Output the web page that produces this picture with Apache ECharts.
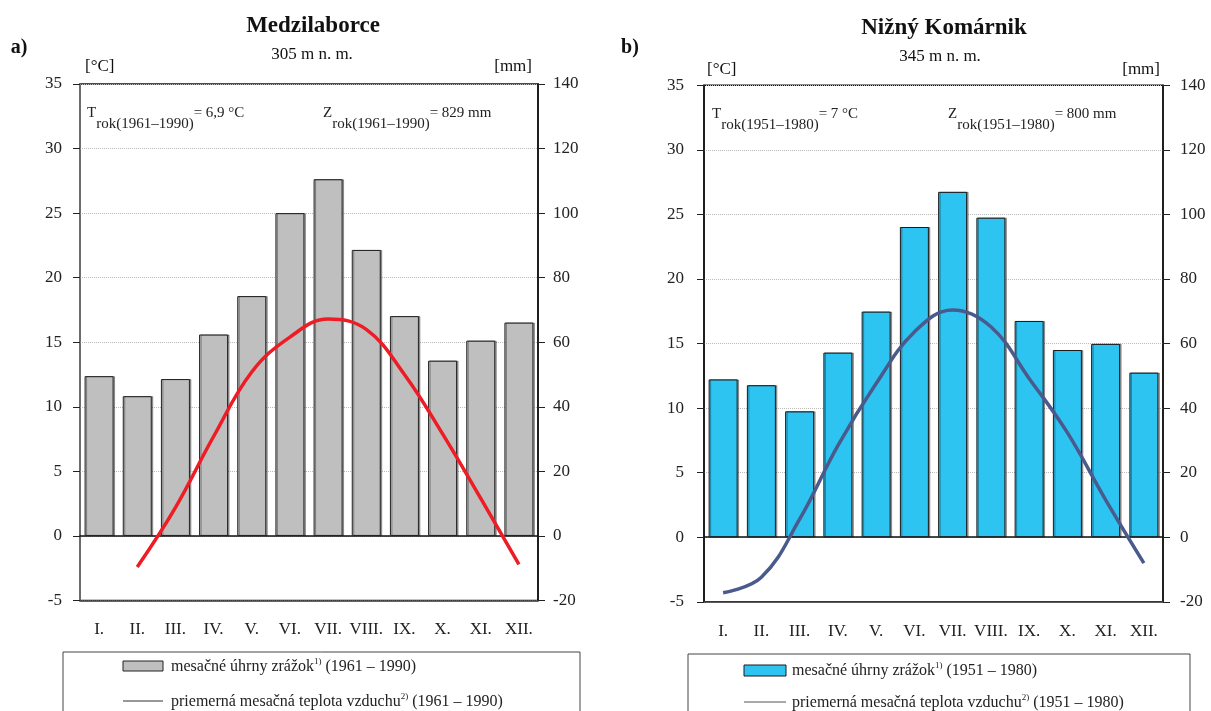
<!DOCTYPE html>
<html>
<head>
<meta charset="utf-8">
<title>Medzilaborce / Nižný Komárnik</title>
<script src="https://cdn.jsdelivr.net/npm/echarts@6/dist/echarts.min.js"></script>
<style>
html, body { margin: 0; padding: 0; background: #fff; }
#main { width: 1211px; height: 711px; }
</style>
</head>
<body>
<div id="main"></div>
<script>
// mesiace
const months = ['I.', 'II.', 'III.', 'IV.', 'V.', 'VI.', 'VII.', 'VIII.', 'IX.', 'X.', 'XI.', 'XII.']

// a) Medzilaborce - zrazky [mm], teplota [°C]
const zrazkyA = [49.5, 43.3, 48.6, 62.4, 74.3, 100, 110.5, 88.6, 68.1, 54.3, 60.5, 66.1]
const teplotaA = [null, -2.4, 2.2, 7.7, 12.7, 15.4, 16.8, 16.0, 12.5, 7.9, 2.9, -2.2]

// b) Nižný Komárnik
const zrazkyB = [48.9, 47.1, 39.0, 57.2, 69.9, 96.1, 107, 99, 67, 58, 59.9, 51]
const teplotaB = [-4.3, -3.1, 1.4, 7.1, 11.9, 15.9, 17.6, 16.3, 12.3, 8.1, 2.9, -2.0]

const FONT = "'Liberation Serif', 'Times New Roman', serif"
const TXT = '#222'

// texty legendy (s horným indexom)
const legendA = [
  ['mesačné úhrny zrážok', '1)', ' (1961 – 1990)'],
  ['priemerná mesačná teplota vzduchu', '2)', ' (1961 – 1990)']
]
const legendB = [
  ['mesačné úhrny zrážok', '1)', ' (1951 – 1980)'],
  ['priemerná mesačná teplota vzduchu', '2)', ' (1951 – 1980)']
]

// osi pre jeden graf
function makeX(gi) {
  return [{
    gridIndex: gi,
    type: 'category',
    data: months,
    position: 'bottom',
    axisLine: { onZero: false, lineStyle: { color: '#444', width: 1.5 } },
    axisTick: { show: false },
    axisLabel: { interval: 0, margin: 21, fontSize: 17, fontFamily: FONT, color: TXT },
    splitLine: { show: false }
  }, {
    gridIndex: gi,
    type: 'category',
    data: months,
    position: 'top',
    axisLine: { onZero: true, lineStyle: { color: '#111', width: 1.5 } },
    axisTick: { inside: true, length: 6, lineStyle: { color: '#333' } },
    axisLabel: { show: false },
    splitLine: { show: false }
  }]
}

function makeY(gi, leftColor, leftMargin, rightMargin) {
  return [{
    gridIndex: gi,
    type: 'value',
    position: 'left',
    min: -5,
    max: 35,
    interval: 5,
    axisLine: { show: true, lineStyle: { color: leftColor, width: 1.5 } },
    axisTick: { show: true, length: 7, lineStyle: { color: '#222' } },
    axisLabel: { margin: leftMargin, fontSize: 17, fontFamily: FONT, color: TXT },
    splitLine: { show: true, lineStyle: { type: 'dotted', color: '#bbb', width: 1 } }
  }, {
    gridIndex: gi,
    type: 'value',
    position: 'right',
    min: -20,
    max: 140,
    interval: 20,
    axisLine: { show: true, lineStyle: { color: '#111', width: 1.5 } },
    axisTick: { show: true, length: 7, lineStyle: { color: '#222' } },
    axisLabel: { margin: rightMargin, fontSize: 17, fontFamily: FONT, color: TXT },
    splitLine: { show: false }
  }]
}

// texty s dolným indexom (T rok, Z rok)
function subText(x, y, main, sub, rest) {
  return {
    type: 'text',
    x: x,
    y: y,
    style: {
      text: '{m|' + main + '}{s|' + sub + '}{m|' + rest + '}',
      align: 'left',
      verticalAlign: 'top',
      fill: TXT,
      rich: {
        m: { fontFamily: FONT, fontSize: 15, lineHeight: 15, verticalAlign: 'top', fill: TXT },
        s: { fontFamily: FONT, fontSize: 15, lineHeight: 26, verticalAlign: 'bottom', fill: TXT }
      }
    }
  }
}

// text s horným indexom (legenda)
function supText(x, y, parts) {
  return {
    type: 'text',
    x: x,
    y: y,
    style: {
      text: '{m|' + parts[0] + '}{s|' + parts[1] + '}{m|' + parts[2] + '}',
      align: 'left',
      verticalAlign: 'middle',
      fill: TXT,
      rich: {
        m: { fontFamily: FONT, fontSize: 16, lineHeight: 18, verticalAlign: 'bottom', fill: TXT },
        s: { fontFamily: FONT, fontSize: 9, lineHeight: 9, verticalAlign: 'top', fill: TXT }
      }
    }
  }
}

function plainText(x, y, text, size, bold, align) {
  return {
    type: 'text',
    x: x,
    y: y,
    style: {
      text: text,
      fontFamily: FONT,
      fontSize: size,
      fontWeight: bold ? 'bold' : 'normal',
      align: align || 'center',
      verticalAlign: 'middle',
      fill: '#111'
    }
  }
}

const chart = echarts.init(document.getElementById('main'), null, { renderer: 'canvas' })

const option = {
  backgroundColor: '#fff',
  animation: false,
  grid: [
    { left: 80, top: 84, width: 458, height: 516.5, show: true, borderColor: '#111', borderWidth: 1.5, backgroundColor: 'transparent' },
    { left: 704, top: 85.3, width: 459, height: 516.5, show: true, borderColor: '#111', borderWidth: 1.5, backgroundColor: 'transparent' }
  ],
  xAxis: makeX(0).concat(makeX(1)),
  yAxis: makeY(0, '#777', 18, 15).concat(makeY(1, '#111', 20, 17)),
  series: [{
    name: 'mesačné úhrny zrážok (1961 – 1990)',
    type: 'bar',
    xAxisIndex: 0,
    yAxisIndex: 1,
    barWidth: 29,
    data: zrazkyA,
    itemStyle: { color: '#bfbfbf', borderColor: '#222', borderWidth: 1, shadowColor: 'rgba(0,0,0,0.35)', shadowOffsetX: 1.5 }
  }, {
    name: 'priemerná mesačná teplota vzduchu (1961 – 1990)',
    type: 'line',
    xAxisIndex: 0,
    yAxisIndex: 0,
    data: teplotaA,
    smooth: 0.4,
    symbol: 'none',
    z: 5,
    itemStyle: { color: '#ee1c25' },
    lineStyle: { color: '#ee1c25', width: 3.5 }
  }, {
    name: 'mesačné úhrny zrážok (1951 – 1980)',
    type: 'bar',
    xAxisIndex: 2,
    yAxisIndex: 3,
    barWidth: 29,
    data: zrazkyB,
    itemStyle: { color: '#2ec4f2', borderColor: '#1a1a1a', borderWidth: 1, shadowColor: 'rgba(0,0,0,0.35)', shadowOffsetX: 1.5 }
  }, {
    name: 'priemerná mesačná teplota vzduchu (1951 – 1980)',
    type: 'line',
    xAxisIndex: 2,
    yAxisIndex: 2,
    data: teplotaB,
    smooth: 0.4,
    symbol: 'none',
    z: 5,
    itemStyle: { color: '#4a5a8c' },
    lineStyle: { color: '#4a5a8c', width: 3.5 }
  }],
  graphic: [
    // a)
    plainText(19, 48, 'a)', 20, true),
    plainText(313, 26, 'Medzilaborce', 23, true),
    plainText(312, 55, '305 m n. m.', 17, false),
    plainText(85, 67, '[°C]', 17, false, 'left'),
    plainText(532, 67, '[mm]', 17, false, 'right'),
    subText(87, 106, 'T', 'rok(1961–1990)', '= 6,9 °C'),
    subText(323, 106, 'Z', 'rok(1961–1990)', '= 829 mm'),
    // legenda a)
    { type: 'rect', shape: { x: 63, y: 652, width: 517, height: 70 }, style: { fill: 'none', stroke: '#444', lineWidth: 1 } },
    { type: 'rect', shape: { x: 123, y: 661, width: 40, height: 10 }, style: { fill: '#bfbfbf', stroke: '#222', lineWidth: 1 } },
    supText(171, 666, legendA[0]),
    { type: 'line', shape: { x1: 123, y1: 701, x2: 163, y2: 701 }, style: { stroke: '#333', lineWidth: 1 } },
    supText(171, 701, legendA[1]),
    // b)
    plainText(630, 48, 'b)', 20, true),
    plainText(944, 28, 'Nižný Komárnik', 23, true),
    plainText(940, 57, '345 m n. m.', 17, false),
    plainText(707, 70, '[°C]', 17, false, 'left'),
    plainText(1160, 70, '[mm]', 17, false, 'right'),
    subText(712, 107, 'T', 'rok(1951–1980)', '= 7 °C'),
    subText(948, 107, 'Z', 'rok(1951–1980)', '= 800 mm'),
    // legenda b)
    { type: 'rect', shape: { x: 688, y: 654, width: 502, height: 70 }, style: { fill: 'none', stroke: '#444', lineWidth: 1 } },
    { type: 'rect', shape: { x: 744, y: 665, width: 42, height: 11 }, style: { fill: '#2ec4f2', stroke: '#1a1a1a', lineWidth: 1 } },
    supText(792, 670, legendB[0]),
    { type: 'line', shape: { x1: 744, y1: 702, x2: 786, y2: 702 }, style: { stroke: '#555', lineWidth: 1 } },
    supText(792, 702, legendB[1])
  ]
}

chart.setOption(option)
</script>
</body>
</html>
